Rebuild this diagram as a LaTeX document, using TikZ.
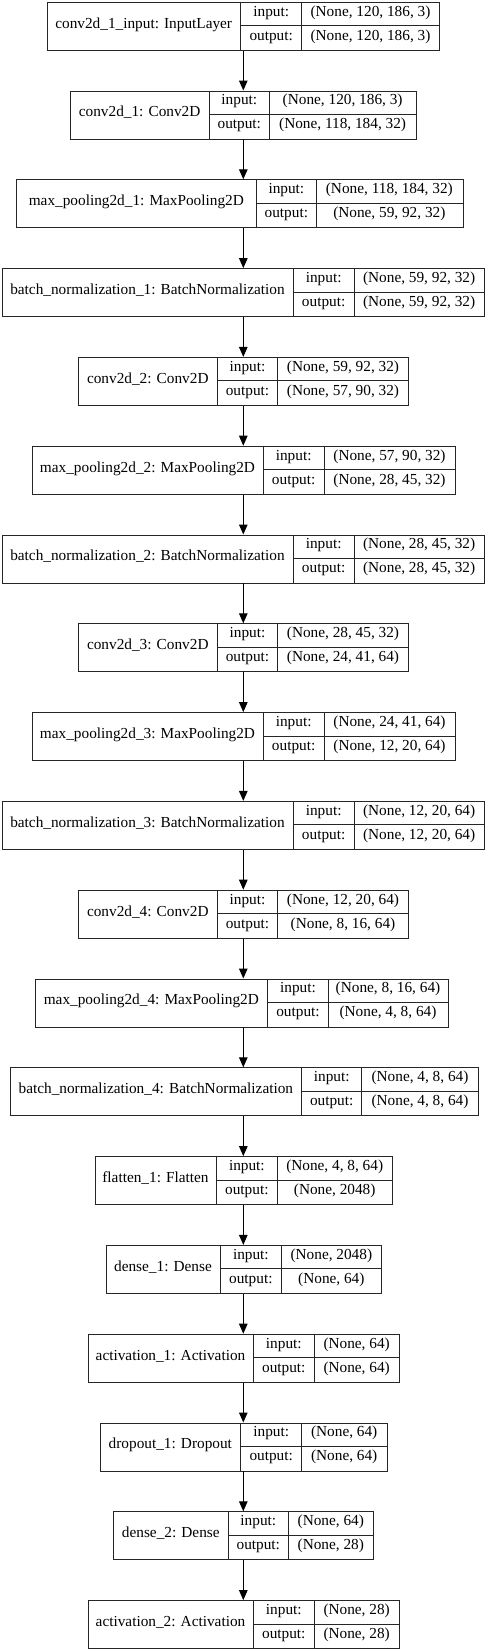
\documentclass[tikz,border=0pt]{standalone}
\usepackage{fontspec}
\setmainfont{Liberation Serif}
\usetikzlibrary{arrows.meta}
\tikzset{
  boxframe/.style={draw=black!85, line width=0.9pt, anchor=north west, minimum height=48pt, inner sep=0pt},
  cell/.style={draw=black!85, line width=0.9pt},
  txt/.style={inner sep=0pt, text height=0.68em, text depth=0.2em, font=\fontsize{15.3}{18}\selectfont},
  arr/.style={draw=black, line width=1.1pt, -{Triangle[width=8.5pt,length=10pt]}}
}
\newcommand\kerasbox[9]{%
  \pgfmathsetmacro\yt{-(1.7+88.8*#2)}%
  \pgfmathsetmacro\bw{#6-#3}%
  \node[boxframe, minimum width=\bw pt] (#1) at (#3,\yt) {};
  \draw[cell] (#4,\yt) -- (#4,\yt-48);
  \draw[cell] (#5,\yt) -- (#5,\yt-48);
  \draw[cell] (#4,\yt-24) -- (#6,\yt-24);
  \node[txt] (#1-name) at ({(#3+#4)/2},\yt-24) {#7};
  \node[txt] (#1-inl) at ({(#4+#5)/2},\yt-12) {input:};
  \node[txt] (#1-outl) at ({(#4+#5)/2},\yt-36) {output:};
  \node[txt] (#1-in) at ({(#5+#6)/2},\yt-12) {#8};
  \node[txt] (#1-out) at ({(#5+#6)/2},\yt-36) {#9};
}
\begin{document}
\begin{tikzpicture}[x=1pt,y=1pt]
\fill[white] (0,0) rectangle (486,-1650);
\useasboundingbox (0,0) rectangle (486,-1650);
\kerasbox{L0}{0}{46.7}{240.7}{301.7}{439.3}{conv2d\_1\_input: InputLayer}{(None, 120, 186, 3)}{(None, 120, 186, 3)}
\kerasbox{L1}{1}{70}{209.3}{269.3}{416}{conv2d\_1: Conv2D}{(None, 120, 186, 3)}{(None, 118, 184, 32)}
\kerasbox{L2}{2}{16}{256.7}{316}{462.7}{max\_pooling2d\_1: MaxPooling2D}{(None, 118, 184, 32)}{(None, 59, 92, 32)}
\kerasbox{L3}{3}{1.7}{293.3}{354}{484.3}{batch\_normalization\_1: BatchNormalization}{(None, 59, 92, 32)}{(None, 59, 92, 32)}
\kerasbox{L4}{4}{78.3}{217.3}{277.7}{408.3}{conv2d\_2: Conv2D}{(None, 59, 92, 32)}{(None, 57, 90, 32)}
\kerasbox{L5}{5}{31.7}{263.3}{324}{455}{max\_pooling2d\_2: MaxPooling2D}{(None, 57, 90, 32)}{(None, 28, 45, 32)}
\kerasbox{L6}{6}{1.7}{293.3}{354}{484.3}{batch\_normalization\_2: BatchNormalization}{(None, 28, 45, 32)}{(None, 28, 45, 32)}
\kerasbox{L7}{7}{78.3}{217.3}{277.7}{408.3}{conv2d\_3: Conv2D}{(None, 28, 45, 32)}{(None, 24, 41, 64)}
\kerasbox{L8}{8}{31.7}{263.3}{324}{455}{max\_pooling2d\_3: MaxPooling2D}{(None, 24, 41, 64)}{(None, 12, 20, 64)}
\kerasbox{L9}{9}{1.7}{293.3}{354}{484.3}{batch\_normalization\_3: BatchNormalization}{(None, 12, 20, 64)}{(None, 12, 20, 64)}
\kerasbox{L10}{10}{78.3}{217.3}{277.7}{408.3}{conv2d\_4: Conv2D}{(None, 12, 20, 64)}{(None, 8, 16, 64)}
\kerasbox{L11}{11}{35}{267.7}{328.3}{447.7}{max\_pooling2d\_4: MaxPooling2D}{(None, 8, 16, 64)}{(None, 4, 8, 64)}
\kerasbox{L12}{12}{10}{301.7}{361.7}{478.3}{batch\_normalization\_4: BatchNormalization}{(None, 4, 8, 64)}{(None, 4, 8, 64)}
\kerasbox{L13}{13}{95}{216}{277.7}{391.7}{flatten\_1: Flatten}{(None, 4, 8, 64)}{(None, 2048)}
\kerasbox{L14}{14}{106}{220}{281.7}{381}{dense\_1: Dense}{(None, 2048)}{(None, 64)}
\kerasbox{L15}{15}{87.7}{253.3}{314.3}{399}{activation\_1: Activation}{(None, 64)}{(None, 64)}
\kerasbox{L16}{16}{100}{240.7}{301.7}{386.7}{dropout\_1: Dropout}{(None, 64)}{(None, 64)}
\kerasbox{L17}{17}{113.3}{228.3}{288.3}{373.3}{dense\_2: Dense}{(None, 64)}{(None, 28)}
\kerasbox{L18}{18}{87.7}{253.3}{314.3}{399}{activation\_2: Activation}{(None, 28)}{(None, 28)}
\coordinate (ax) at (243.3,0);
\foreach \i [evaluate=\i as \j using int(\i+1)] in {0,...,17}{
  \draw[arr] (L\i.south -| ax) -- (L\j.north -| ax);
}
\end{tikzpicture}
\end{document}
